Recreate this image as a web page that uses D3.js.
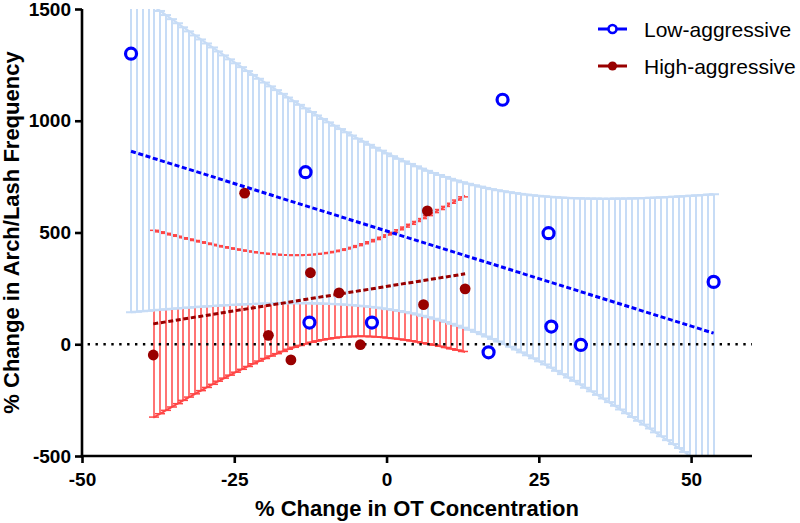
<!DOCTYPE html>
<html>
<head>
<meta charset="utf-8">
<script src="https://cdn.jsdelivr.net/npm/d3@7"></script>
<style>
  html, body { margin: 0; padding: 0; background: #fff; }
  svg { display: block; font-family: "Liberation Sans", Arial, Helvetica, sans-serif; }
</style>
</head>
<body>
<svg id="chart" width="800" height="523"></svg>
<script>
// ---------------- data ----------------
const lowX  = [-41.95, -13.3, -12.66, -2.4, 16.75, 19.05, 26.6, 27.05, 31.9, 53.7];
const lowY  = [1300, 770, 97, 97, -36, 1094, 497, 79, -3, 279];
const highX = [-38.3, -23.3, -19.4, -15.7, -12.5, -7.8, -4.3, 6.07, 6.7, 12.9];
const highY = [-48, 676, 40, -70, 320, 230, -2, 177, 597, 248];
const seriesNames = ["Low-aggressive", "High-aggressive"];
const xTicks = [-50, -25, 0, 25, 50];
const yTicks = [-500, 0, 500, 1000, 1500];
const xDomain = [-50, 60];
const yDomain = [-500, 1500];
const tCrit = 2.306;      // t(0.975, df = 8) for the 95% confidence band
const bandSteps = 100;    // number of intervals for the band error bars
const xTitle = "% Change in OT Concentration";
const yTitle = "% Change in Arch/Lash Frequency";

// ---------------- layout ----------------
const svg = d3.select("#chart");
const L = 82, R = 752, T = 9, B = 456;
const x = d3.scaleLinear().domain(xDomain).range([L, R]);
const y = d3.scaleLinear().domain(yDomain).range([B, T]);

function fit(xs, ys) {
  const n = xs.length;
  const mx = d3.mean(xs), my = d3.mean(ys);
  let sxx = 0, sxy = 0;
  for (let i = 0; i < n; i++) { sxx += (xs[i] - mx) ** 2; sxy += (xs[i] - mx) * (ys[i] - my); }
  const b = sxy / sxx, a = my - b * mx;
  let sse = 0;
  for (let i = 0; i < n; i++) sse += (ys[i] - (a + b * xs[i])) ** 2;
  const s = Math.sqrt(sse / (n - 2));
  return {
    xmin: d3.min(xs), xmax: d3.max(xs),
    f: v => a + b * v,
    half: v => tCrit * s * Math.sqrt(1 / n + (v - mx) ** 2 / sxx)
  };
}

const low = fit(lowX, lowY);
const high = fit(highX, highY);

// common evaluation grid across the low series range
const grid = d3.range(bandSteps + 1).map(k => low.xmin + k * (low.xmax - low.xmin) / bandSteps);

svg.append("defs").append("clipPath").attr("id", "plotclip")
  .append("rect").attr("x", L).attr("y", T).attr("width", R - L).attr("height", B - T);

const plot = svg.append("g").attr("clip-path", "url(#plotclip)");

function drawBand(m, color, barW, edgeW) {
  const g = plot.append("g");
  const pts = grid.filter(v => v >= m.xmin - 1e-9 && v <= m.xmax + 1e-9);
  const sx = v => Math.round(x(v));
  // edges
  const edgeX = d3.range(0, 201).map(k => m.xmin + k * (m.xmax - m.xmin) / 200);
  const upper = d3.line().x(v => x(v)).y(v => y(m.f(v) + m.half(v)));
  const lower = d3.line().x(v => x(v)).y(v => y(m.f(v) - m.half(v)));
  g.append("path").attr("d", upper(edgeX)).attr("fill", "none").attr("stroke", color).attr("stroke-width", edgeW);
  g.append("path").attr("d", lower(edgeX)).attr("fill", "none").attr("stroke", color).attr("stroke-width", edgeW);
  // vertical bars
  g.selectAll("line.bar").data(pts).join("line").attr("class", "bar")
    .attr("x1", sx).attr("x2", sx)
    .attr("y1", v => y(m.f(v) + m.half(v))).attr("y2", v => y(m.f(v) - m.half(v)))
    .attr("stroke", color).attr("stroke-width", barW);
  // caps
  const capW = 5;
  ["up", "lo"].forEach(side => {
    g.selectAll("line.cap" + side).data(pts).join("line").attr("class", "cap" + side)
      .attr("x1", v => sx(v) - capW).attr("x2", v => sx(v) + capW)
      .attr("y1", v => y(m.f(v) + (side === "up" ? 1 : -1) * m.half(v)))
      .attr("y2", v => y(m.f(v) + (side === "up" ? 1 : -1) * m.half(v)))
      .attr("stroke", color).attr("stroke-width", barW);
  });
}

drawBand(high, "#ff4646", 1.5, 2);
drawBand(low, "#c7dcf6", 2, 2.2);

// zero line
plot.append("line").attr("x1", L).attr("x2", R).attr("y1", y(0)).attr("y2", y(0))
  .attr("stroke", "#000").attr("stroke-width", 2.6)
  .attr("stroke-dasharray", "2.4,5.5").attr("stroke-dashoffset", -5.6);

// regression lines
function regLine(m, color) {
  plot.append("line")
    .attr("x1", x(m.xmin)).attr("x2", x(m.xmax))
    .attr("y1", y(m.f(m.xmin))).attr("y2", y(m.f(m.xmax)))
    .attr("stroke", color).attr("stroke-width", 3)
    .attr("stroke-dasharray", "5,2.6");
}
regLine(low, "#0000ff");
regLine(high, "#990000");

// points
const lowPts = lowX.map((v, i) => [v, lowY[i]]);
const highPts = highX.map((v, i) => [v, highY[i]]);
plot.selectAll("circle.hi").data(highPts).join("circle").attr("class", "hi")
  .attr("cx", d => x(d[0])).attr("cy", d => y(d[1])).attr("r", 5.4)
  .attr("fill", "#990000");
plot.selectAll("circle.lo").data(lowPts).join("circle").attr("class", "lo")
  .attr("cx", d => x(d[0])).attr("cy", d => y(d[1])).attr("r", 5.5)
  .attr("fill", "#fff").attr("stroke", "#0000ff").attr("stroke-width", 3.2);

// axes
const fmt = d => String(d);
const xAxis = svg.append("g").attr("transform", `translate(0,${B})`)
  .call(d3.axisBottom(x).tickValues(xTicks).tickFormat(fmt).tickSize(7).tickPadding(10).tickSizeOuter(0));
const yAxis = svg.append("g").attr("transform", `translate(${L},0)`)
  .call(d3.axisLeft(y).tickValues(yTicks).tickFormat(fmt).tickSize(7).tickPadding(4).tickSizeOuter(0));
[xAxis, yAxis].forEach(a => {
  a.select(".domain").attr("stroke", "#000").attr("stroke-width", 2.6);
  a.selectAll(".tick line").attr("stroke", "#000").attr("stroke-width", 2.6);
  a.selectAll(".tick text").attr("fill", "#000").attr("font-size", 19).attr("font-weight", "bold")
    .attr("font-family", "Liberation Sans, Arial, sans-serif");
});
xAxis.select(".domain").attr("d", `M${L - 1.3},0H${R}`);
yAxis.select(".domain").attr("d", `M0,${T}V${B + 1.3}`);

// titles
svg.append("text").attr("x", (L + R) / 2).attr("y", 516).attr("text-anchor", "middle")
  .attr("font-size", 22).attr("font-weight", "bold").text(xTitle);
svg.append("text").attr("transform", `translate(19,${(T + B) / 2}) rotate(-90)`)
  .attr("text-anchor", "middle").attr("font-size", 22).attr("font-weight", "bold").text(yTitle);

// legend
const legend = svg.append("g");
const legRows = [
  { name: seriesNames[0], cy: 29, color: "#0000ff", open: true },
  { name: seriesNames[1], cy: 66, color: "#990000", open: false }
];
legRows.forEach(r => {
  legend.append("line").attr("x1", 598).attr("x2", 627).attr("y1", r.cy).attr("y2", r.cy)
    .attr("stroke", r.color).attr("stroke-width", 3);
  if (r.open) {
    legend.append("circle").attr("cx", 612.5).attr("cy", r.cy).attr("r", 4)
      .attr("fill", "#fff").attr("stroke", r.color).attr("stroke-width", 2.6);
  } else {
    legend.append("circle").attr("cx", 612.5).attr("cy", r.cy).attr("r", 4.6).attr("fill", r.color);
  }
  legend.append("text").attr("x", 644).attr("y", r.cy + 7.5).attr("font-size", 21)
    .attr("fill", "#000").text(r.name);
});
</script>
</body>
</html>
